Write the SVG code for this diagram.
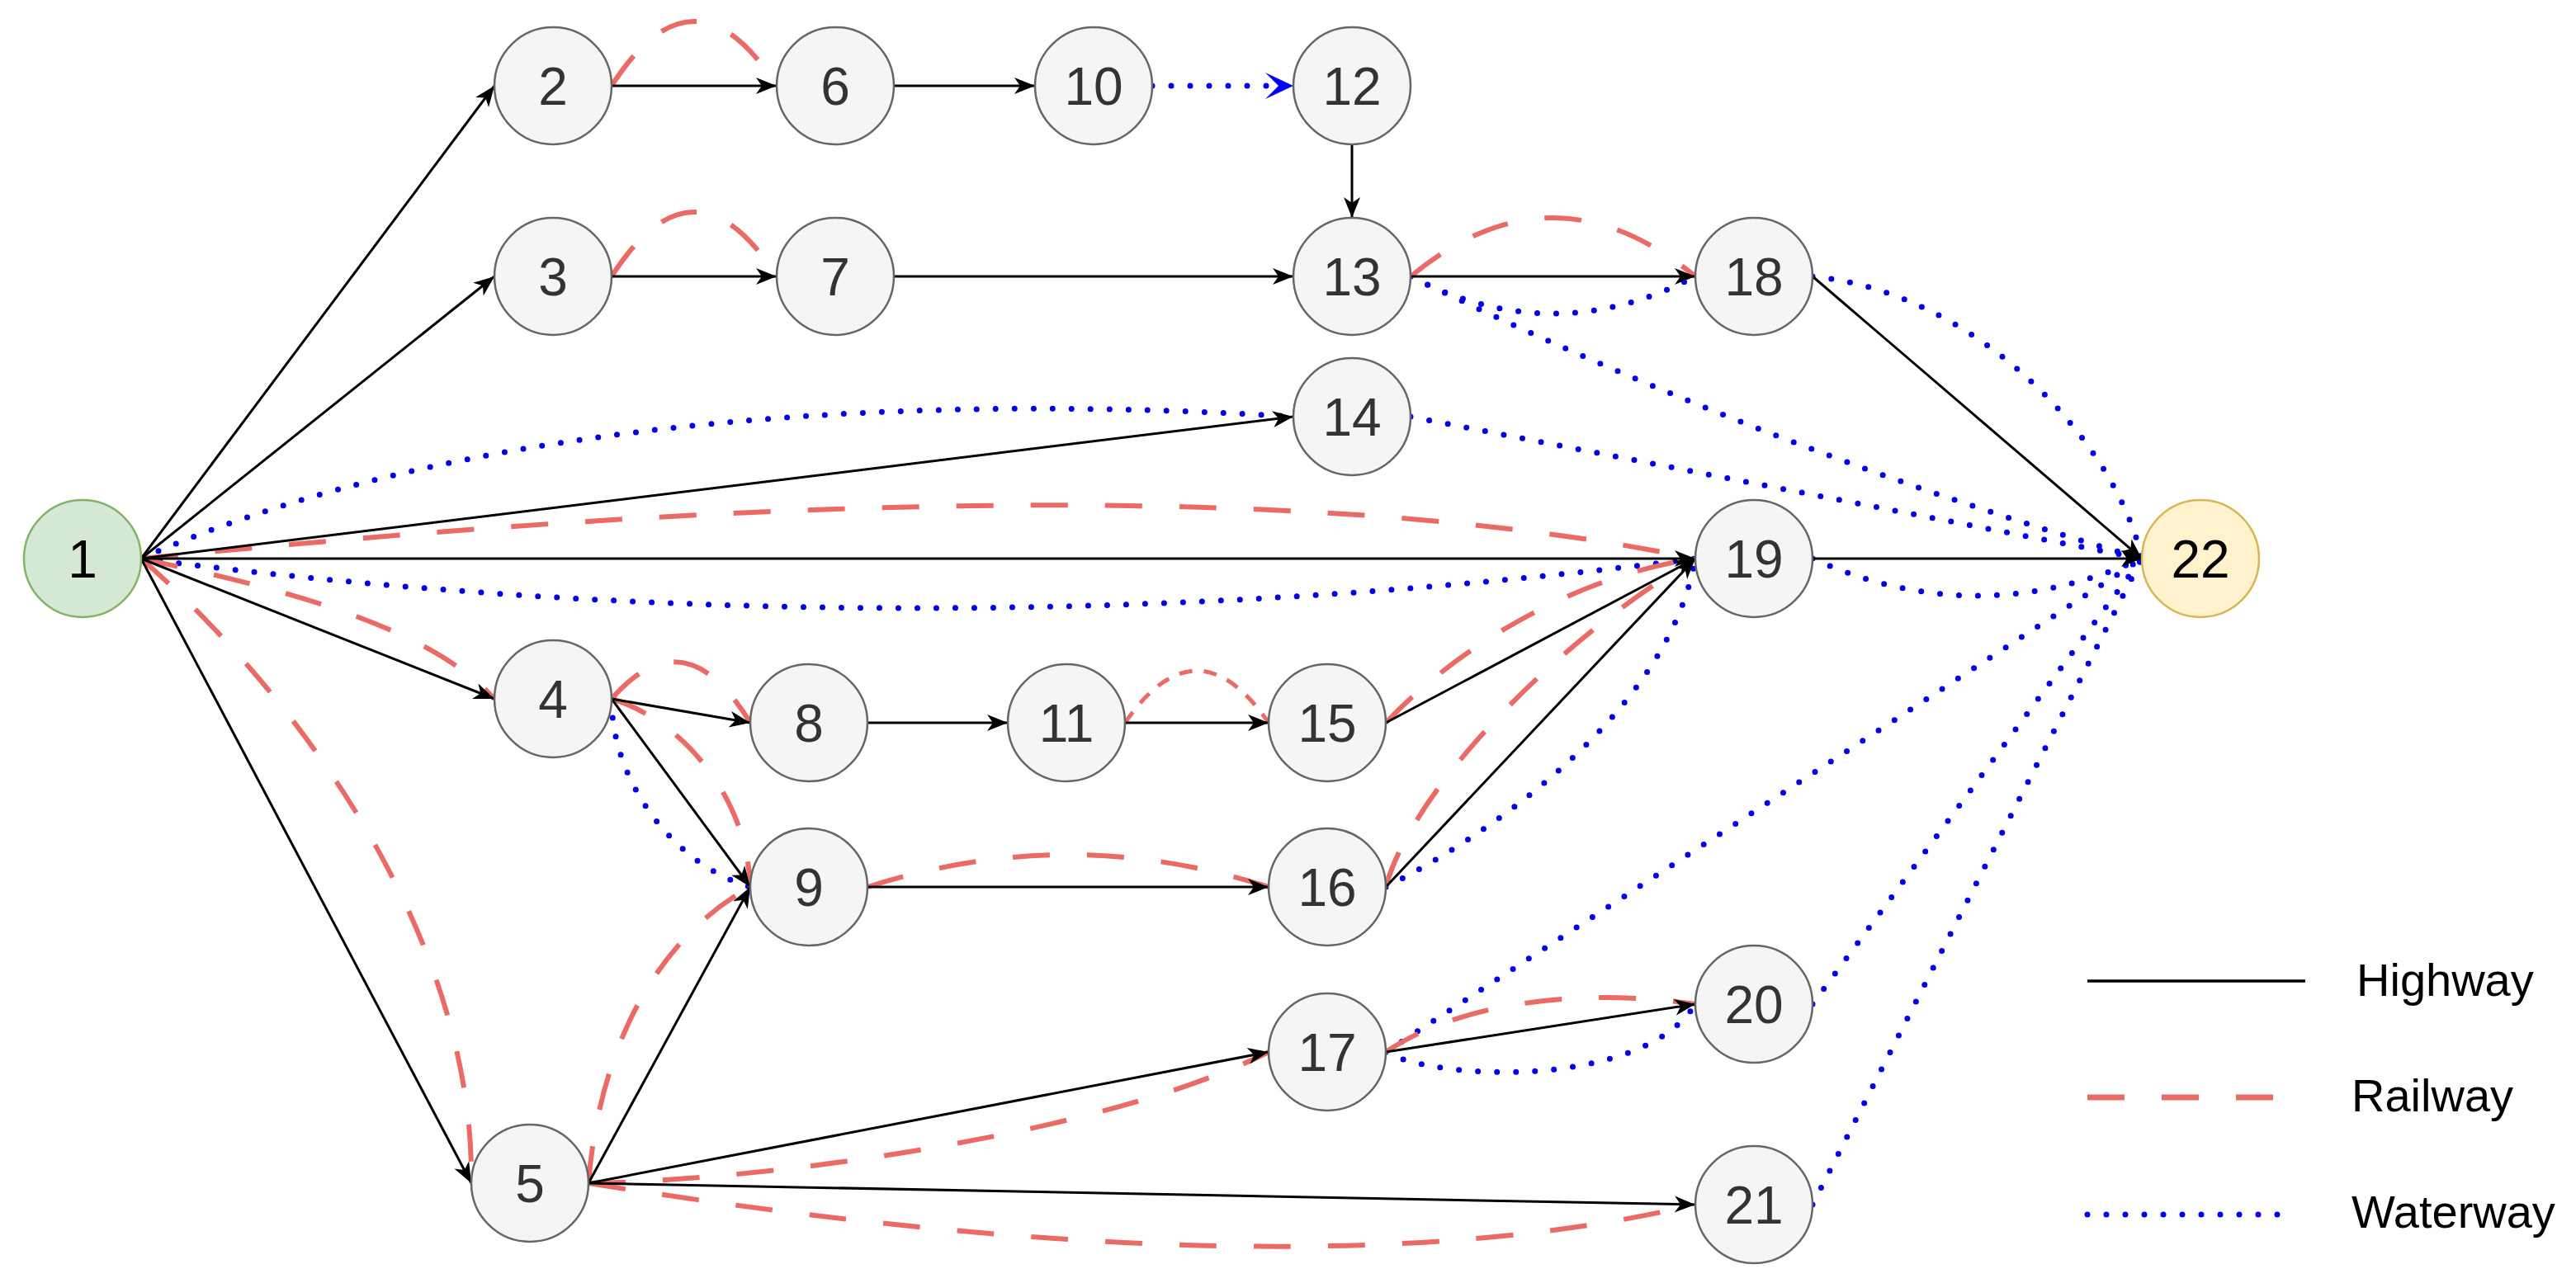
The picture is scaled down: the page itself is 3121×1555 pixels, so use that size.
<svg xmlns="http://www.w3.org/2000/svg" width="3121" height="1555" viewBox="0 0 3121 1555">
<style>
.n circle{fill:#f5f5f5;stroke:#666;stroke-width:2.5}
.n text{font-family:"Liberation Sans",Arial,sans-serif;font-size:64px;fill:#333;text-anchor:middle}
#n1 circle{fill:#d5e8d4;stroke:#82b366}
#n22 circle{fill:#fff2cc;stroke:#d6b656}
#n1 text,#n22 text{fill:#000}
.hw{fill:none;stroke:#000;stroke-width:3;marker-end:url(#ah)}
.rw{fill:none;stroke:#EA6B66;stroke-width:6;stroke-dasharray:45 45}
.rs{stroke-width:5;stroke-dasharray:16 14}
.ww{fill:none;stroke:#0000EE;stroke-width:7;stroke-dasharray:0 23;stroke-linecap:round}
.wa{marker-end:url(#ab)}
.lg text{font-family:"Liberation Sans",Arial,sans-serif;font-size:56px;fill:#000}
</style>
<defs>
<marker id="ah" viewBox="-26 -11 27 22" refX="0" refY="0" markerWidth="27" markerHeight="22" markerUnits="userSpaceOnUse" orient="auto"><path d="M0,0 L-25,-10 L-18,0 L-25,10 Z" fill="#000"/></marker>
<marker id="ab" viewBox="-35 -17 36 34" refX="0" refY="0" markerWidth="36" markerHeight="34" markerUnits="userSpaceOnUse" orient="auto"><path d="M0,0 L-34,-16 L-18,0 L-34,16 Z" fill="#0000EE"/></marker>
</defs>
<rect width="3121" height="1555" fill="#fff"/>
<g id="connectors">
<g id="waterway">
<path class="ww wa" d="M1396,104 L1567,104"/>
<path class="ww" d="M171,677 C500,530 1000,470 1567,505"/>
<path class="ww" d="M171,677 Q1111,797 2054,677"/>
<path class="ww" d="M741,847 C741,950 820,1050 909,1075"/>
<path class="ww" d="M1709,335 Q1881,425 2054,335"/>
<path class="ww" d="M1709,335 Q2140,545 2595,677"/>
<path class="ww" d="M1709,505 L2595,677"/>
<path class="ww" d="M2196,335 C2400,355 2565,540 2595,677"/>
<path class="ww" d="M2196,677 Q2395,767 2595,677"/>
<path class="ww" d="M1679,1075 C1790,1020 2020,870 2054,677"/>
<path class="ww" d="M1679,1275 C1740,1310 1990,1320 2054,1217"/>
<path class="ww" d="M1679,1275 L2595,677"/>
<path class="ww" d="M2196,1217 L2595,677"/>
<path class="ww" d="M2196,1460 L2595,677"/>
</g>
<g id="railway">
<path class="rw" d="M741,104 Q841,-52 941,104"/>
<path class="rw" d="M741,335 Q841,179 941,335"/>
<path class="rw" d="M1709,335 Q1881,193 2054,335"/>
<path class="rw" d="M171,677 C700,625 1500,562 2054,677"/>
<path class="rw" d="M171,677 C350,715 520,760 599,847"/>
<path class="rw" d="M171,677 C380,860 575,1150 571,1434"/>
<path class="rw" d="M741,847 Q830,745 909,876"/>
<path class="rw" d="M741,847 C820,870 905,960 909,1075"/>
<path class="rw rs" d="M1363,876 Q1450,750 1537,876"/>
<path class="rw" d="M1051,1075 Q1294,997 1537,1075"/>
<path class="rw" d="M1679,876 C1760,790 1900,700 2054,677"/>
<path class="rw" d="M1679,1075 C1710,960 1880,780 2054,677"/>
<path class="rw" d="M713,1434 C725,1280 790,1140 909,1075"/>
<path class="rw" d="M713,1434 C950,1430 1350,1370 1537,1275"/>
<path class="rw" d="M713,1434 Q1576,1573 2054,1460"/>
<path class="rw" d="M1679,1275 C1760,1220 1900,1195 2054,1217"/>
</g>
<g id="highway">
<path class="hw" d="M171,677 L599,104"/>
<path class="hw" d="M171,677 L599,335"/>
<path class="hw" d="M171,677 L1567,505"/>
<path class="hw" d="M171,677 L2054,677"/>
<path class="hw" d="M171,677 L599,847"/>
<path class="hw" d="M171,677 L571,1434"/>
<path class="hw" d="M741,104 L941,104"/>
<path class="hw" d="M1083,104 L1254,104"/>
<path class="hw" d="M1638,175 L1638,264"/>
<path class="hw" d="M741,335 L941,335"/>
<path class="hw" d="M1083,335 L1567,335"/>
<path class="hw" d="M1709,335 L2054,335"/>
<path class="hw" d="M2196,335 L2595,677"/>
<path class="hw" d="M2196,677 L2595,677"/>
<path class="hw" d="M741,847 L909,876"/>
<path class="hw" d="M741,847 L909,1075"/>
<path class="hw" d="M1051,876 L1221,876"/>
<path class="hw" d="M1363,876 L1537,876"/>
<path class="hw" d="M1679,876 L2054,677"/>
<path class="hw" d="M1051,1075 L1537,1075"/>
<path class="hw" d="M1679,1075 L2054,677"/>
<path class="hw" d="M713,1434 L909,1075"/>
<path class="hw" d="M713,1434 L1537,1275"/>
<path class="hw" d="M713,1434 L2054,1460"/>
<path class="hw" d="M1679,1275 L2054,1217"/>
</g>
</g>
<g id="n1" class="n"><circle cx="100" cy="677" r="71"/><text x="100" y="700">1</text></g>
<g id="n2" class="n"><circle cx="670" cy="104" r="71"/><text x="670" y="127">2</text></g>
<g id="n3" class="n"><circle cx="670" cy="335" r="71"/><text x="670" y="358">3</text></g>
<g id="n4" class="n"><circle cx="670" cy="847" r="71"/><text x="670" y="870">4</text></g>
<g id="n5" class="n"><circle cx="642" cy="1434" r="71"/><text x="642" y="1457">5</text></g>
<g id="n6" class="n"><circle cx="1012" cy="104" r="71"/><text x="1012" y="127">6</text></g>
<g id="n7" class="n"><circle cx="1012" cy="335" r="71"/><text x="1012" y="358">7</text></g>
<g id="n8" class="n"><circle cx="980" cy="876" r="71"/><text x="980" y="899">8</text></g>
<g id="n9" class="n"><circle cx="980" cy="1075" r="71"/><text x="980" y="1098">9</text></g>
<g id="n10" class="n"><circle cx="1325" cy="104" r="71"/><text x="1325" y="127">10</text></g>
<g id="n11" class="n"><circle cx="1292" cy="876" r="71"/><text x="1292" y="899">11</text></g>
<g id="n12" class="n"><circle cx="1638" cy="104" r="71"/><text x="1638" y="127">12</text></g>
<g id="n13" class="n"><circle cx="1638" cy="335" r="71"/><text x="1638" y="358">13</text></g>
<g id="n14" class="n"><circle cx="1638" cy="505" r="71"/><text x="1638" y="528">14</text></g>
<g id="n15" class="n"><circle cx="1608" cy="876" r="71"/><text x="1608" y="899">15</text></g>
<g id="n16" class="n"><circle cx="1608" cy="1075" r="71"/><text x="1608" y="1098">16</text></g>
<g id="n17" class="n"><circle cx="1608" cy="1275" r="71"/><text x="1608" y="1298">17</text></g>
<g id="n18" class="n"><circle cx="2125" cy="335" r="71"/><text x="2125" y="358">18</text></g>
<g id="n19" class="n"><circle cx="2125" cy="677" r="71"/><text x="2125" y="700">19</text></g>
<g id="n20" class="n"><circle cx="2125" cy="1217" r="71"/><text x="2125" y="1240">20</text></g>
<g id="n21" class="n"><circle cx="2125" cy="1460" r="71"/><text x="2125" y="1483">21</text></g>
<g id="n22" class="n"><circle cx="2666" cy="677" r="71"/><text x="2666" y="700">22</text></g>
<g id="legend" class="lg">
<line x1="2529" y1="1189" x2="2793" y2="1189" stroke="#000" stroke-width="3.5"/>
<line x1="2529" y1="1330" x2="2756" y2="1330" stroke="#EA6B66" stroke-width="7" stroke-dasharray="45 45"/>
<line x1="2529" y1="1472" x2="2782" y2="1472" stroke="#0000EE" stroke-width="7" stroke-dasharray="0 23" stroke-linecap="round"/>
<text x="2855" y="1207">Highway</text>
<text x="2849" y="1347">Railway</text>
<text x="2849" y="1488">Waterway</text>
</g>
</svg>
